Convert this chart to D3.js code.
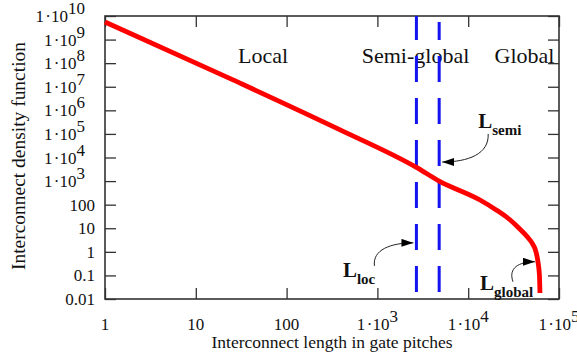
<!DOCTYPE html>
<html>
<head>
<meta charset="utf-8">
<title>Interconnect density function</title>
<style type="text/css">
	body {margin: 0px; background: white;}
	svg {display: block;}
	text {font-family: "Liberation Serif", "Times New Roman", serif; fill: #111;}
	.tick line {stroke: #333; stroke-width: 1.3;}
</style>
</head>
<body>
<svg id="chart" width="577" height="358"></svg>
<script src="https://d3js.org/d3.v7.min.js"></script>
<script>
// interconnect length (gate pitches) and density
var lengths = [1, 25.7, 389, 2690, 4790, 13500, 19950, 28800, 36300, 44700, 51300, 55000, 58900, 60900, 61700];
var density = [5.6e9, 1.95e7, 1.48e5, 3800, 1000, 158, 63, 22.9, 10, 4.37, 2.14, 1.2, 0.34, 0.1, 0.018];

var xTicks = [1, 10, 100, 1e3, 1e4, 1e5];
var yTicks = [0.01, 0.1, 1, 10, 100, 1e3, 1e4, 1e5, 1e6, 1e7, 1e8, 1e9, 1e10];

var boundaries = [2690, 4790];          // L_loc, L_semi
var regionNames = ["Local", "Semi-global", "Global"];
var regionAt = [55, 2630, 41700];

var svg = d3.select("#chart");
var margin = {top: 16, left: 105, right: 18, bottom: 59},
	width = 577, height = 358;

var x = d3.scaleLog().domain([1, 1e5]).range([margin.left, width - margin.right]);
var y = d3.scaleLog().domain([0.01, 1e10]).range([height - margin.bottom, margin.top]);

var x0 = x.range()[0], x1 = x.range()[1], y0 = y.range()[0], y1 = y.range()[1];

// inward ticks on all four sides
svg.append("g").attr("transform", "translate(0," + y0 + ")")
	.call(d3.axisBottom(x).tickValues(xTicks).tickSize(-11).tickFormat(""));
svg.append("g").attr("transform", "translate(0," + y1 + ")")
	.call(d3.axisTop(x).tickValues(xTicks).tickSize(-11).tickFormat(""));
svg.append("g").attr("transform", "translate(" + x0 + ",0)")
	.call(d3.axisLeft(y).tickValues(yTicks).tickSize(-11).tickFormat(""));
svg.append("g").attr("transform", "translate(" + x1 + ",0)")
	.call(d3.axisRight(y).tickValues(yTicks).tickSize(-11).tickFormat(""));
svg.selectAll(".domain").remove();

svg.append("rect")
	.attr("x", x0).attr("y", y1)
	.attr("width", x1 - x0).attr("height", y0 - y1)
	.attr("fill", "none").attr("stroke", "#333").attr("stroke-width", 1.6);

function tickLabel(sel, v) {
	if (v < 1000) {
		sel.text(String(v));
	} else {
		sel.append("tspan").text("1\u200A\u00B710");
		sel.append("tspan").attr("dy", -8).text(Math.round(Math.log10(v)));
	}
}

// x tick labels
xTicks.forEach(function(v) {
	var t = svg.append("text")
		.attr("x", x(v)).attr("y", y0 + 31)
		.attr("text-anchor", "middle")
		.attr("font-size", 17);
	tickLabel(t, v);
});

// y tick labels
yTicks.forEach(function(v) {
	var t = svg.append("text")
		.attr("x", v < 1000 ? x0 - 10 : x0 - 20)
		.attr("y", y(v) + 6)
		.attr("text-anchor", "end")
		.attr("font-size", 17);
	tickLabel(t, v);
});

// axis titles
svg.append("text")
	.attr("x", (x0 + x1) / 2).attr("y", 348)
	.attr("text-anchor", "middle")
	.attr("font-size", 17.5)
	.text("Interconnect length in gate pitches");

svg.append("text")
	.attr("transform", "translate(25," + 156 + ") rotate(-90)")
	.attr("text-anchor", "middle")
	.attr("font-size", 18)
	.attr("textLength", 228).attr("lengthAdjust", "spacingAndGlyphs")
	.text("Interconnect density function");

// region names
svg.selectAll(".region").data(regionNames).enter()
	.append("text")
	.attr("class", "region")
	.attr("x", function(d, i){return x(regionAt[i]);})
	.attr("y", y(1e8))
	.attr("text-anchor", "middle")
	.attr("font-size", 22)
	.text(function(d){return d;});

// boundary lines
svg.selectAll(".bound").data(boundaries).enter()
	.append("line")
	.attr("class", "bound")
	.attr("x1", function(d){return x(d);})
	.attr("x2", function(d){return x(d);})
	.attr("y1", function(d, i){return y1 + i * 6;})
	.attr("y2", y0)
	.attr("stroke", "#1414f0")
	.attr("stroke-width", 3)
	.attr("stroke-dasharray", "26 16")
	.attr("stroke-dashoffset", function(d, i){return 2 + i * 6;});

// density curve
var pts = lengths.map(function(d, i){return {L: d, n: density[i]};});
var line = d3.line()
	.x(function(d){return x(d.L);})
	.y(function(d){return y(d.n);})
	.curve(d3.curveMonotoneX);

svg.append("path")
	.datum(pts)
	.attr("d", line)
	.attr("fill", "none")
	.attr("stroke", "#ff0000")
	.attr("stroke-width", 4.8)
	.attr("stroke-linejoin", "round");

// annotations with curved arrows
svg.append("defs").append("marker")
	.attr("id", "head")
	.attr("viewBox", "0 0 12 8")
	.attr("refX", 12).attr("refY", 4)
	.attr("markerWidth", 12).attr("markerHeight", 8)
	.attr("markerUnits", "userSpaceOnUse")
	.attr("orient", "auto")
	.append("path").attr("d", "M0,0L12,4L0,8Z").attr("fill", "#000");

var notes = [
	{main: "L", sub: "semi", at: [12900, 1.8e5], tip: [4790, 6450], dx: 3,
		from: [46, -28], c1: [47, -8], c2: [26, 0]},
	{main: "L", sub: "loc", at: [417, 0.087], tip: [2690, 2.4], dx: -3,
		from: [-39, 23], c1: [-41, 7], c2: [-23, 0]},
	{main: "L", sub: "global", at: [13500, 0.0245], tip: [54400, 0.38], dx: 0,
		from: [-22, 20], c1: [-27, 6], c2: [-16, 0]}
];

notes.forEach(function(n) {
	var t = svg.append("text")
		.attr("x", x(n.at[0])).attr("y", y(n.at[1]))
		.attr("font-weight", "bold")
		.attr("font-size", 21);
	t.append("tspan").text(n.main);
	t.append("tspan").attr("dy", 7).attr("font-size", 15).text(n.sub);

	var tx = x(n.tip[0]) + n.dx, ty = y(n.tip[1]);
	svg.append("path")
		.attr("d", "M" + (tx + n.from[0]) + "," + (ty + n.from[1]) +
			"C" + (tx + n.c1[0]) + "," + (ty + n.c1[1]) + " " +
			(tx + n.c2[0]) + "," + (ty + n.c2[1]) + " " + tx + "," + ty)
		.attr("fill", "none")
		.attr("stroke", "#222")
		.attr("stroke-width", 1)
		.attr("marker-end", "url(#head)");
});
</script>
</body>
</html>
